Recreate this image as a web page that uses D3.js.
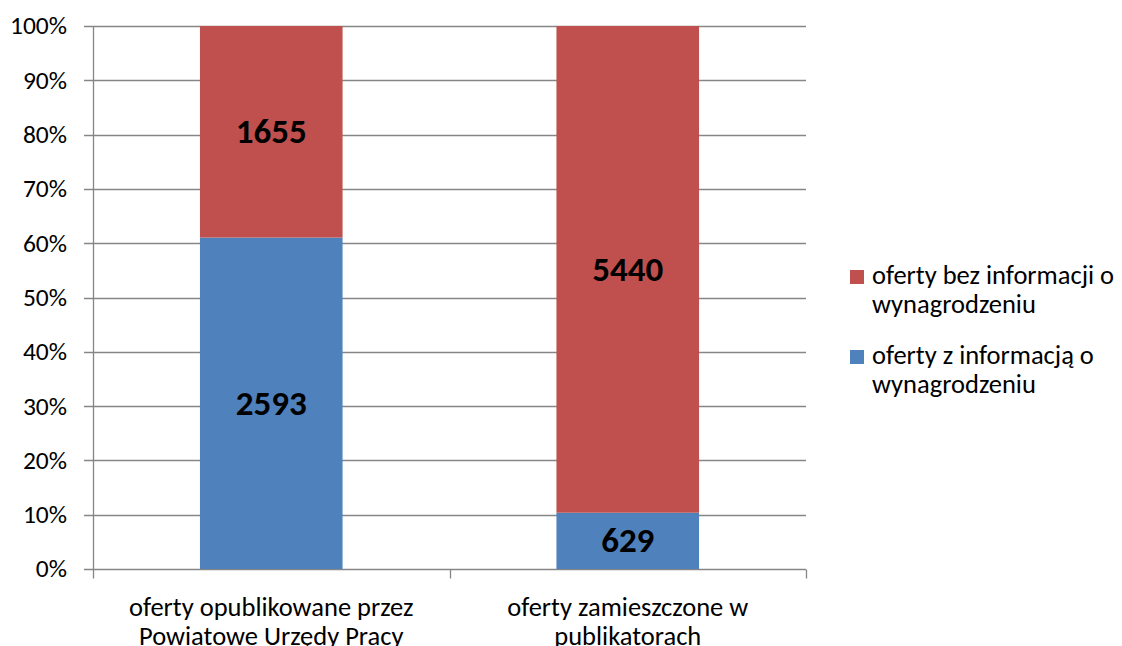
<!DOCTYPE html>
<html>
<head>
<meta charset="utf-8">
<script src="https://cdn.jsdelivr.net/npm/d3@7"></script>
<style>
  body { margin: 0; background: #fff; }
  text { font-family: Carlito, "Open Sans", sans-serif; }
</style>
</head>
<body>
<script>
const width = 1122;
const height = 646;

// data
const categories = [
  ['oferty opublikowane przez', 'Powiatowe Urzędy Pracy'],
  ['oferty zamieszczone w', 'publikatorach']
];
const legendLines = [
  ['oferty bez informacji o', 'wynagrodzeniu'],
  ['oferty z informacją o', 'wynagrodzeniu']
];
const withInfo = [2593, 629];
const withoutInfo = [1655, 5440];
const yTicks = [0, 0.1, 0.2, 0.3, 0.4, 0.5, 0.6, 0.7, 0.8, 0.9, 1];
const colors = ['#4F81BD', '#C0504D'];

const margin = {left: 93, right: 316, top: 26, bottom: 77};

const svg = d3.select('body').append('svg').attr('width', width).attr('height', height);
const g = svg.append('g');

const rows = categories.map((c, i) => ({idx: i, a: withInfo[i], b: withoutInfo[i]}));
const stack = d3.stack().keys(['a', 'b']).offset(d3.stackOffsetExpand);
const layers = stack(rows);

const x = d3.scaleBand().domain(d3.range(categories.length))
  .range([margin.left, width - margin.right]).paddingInner(0.6).paddingOuter(0.3);
const y = d3.scaleLinear().domain([0, 1]).range([height - margin.bottom, margin.top]);

// gridlines
g.selectAll('.grid')
  .data(yTicks)
  .enter()
  .append('line')
  .attr('x1', margin.left - 9)
  .attr('x2', width - margin.right)
  .attr('y1', d => Math.round(y(d)) + 0.5)
  .attr('y2', d => Math.round(y(d)) + 0.5)
  .attr('stroke', '#868686')
  .attr('stroke-width', 1.3);

// y labels
g.selectAll('.ylab')
  .data(yTicks)
  .enter()
  .append('text')
  .attr('x', 67)
  .attr('y', d => y(d))
  .attr('dy', '0.33em')
  .attr('text-anchor', 'end')
  .attr('font-size', 25.5)
  .attr('fill', '#000')
  .text(d => d3.format('.0%')(d));

// bars
layers.forEach((layer, k) => {
  g.selectAll('.bar' + k)
    .data(layer)
    .enter()
    .append('rect')
    .attr('x', d => x(d.data.idx))
    .attr('width', x.bandwidth())
    .attr('y', d => y(d[1]))
    .attr('height', d => y(d[0]) - y(d[1]))
    .attr('fill', colors[k]);

  g.selectAll('.lab' + k)
    .data(layer)
    .enter()
    .append('text')
    .attr('x', d => x(d.data.idx) + x.bandwidth() / 2)
    .attr('y', d => (y(d[0]) + y(d[1])) / 2)
    .attr('dy', '0.33em')
    .attr('text-anchor', 'middle')
    .attr('font-size', 35)
    .attr('font-weight', 'bold')
    .attr('fill', '#000')
    .text(d => k === 0 ? d.data.a : d.data.b);
});

// axes lines
const y0 = Math.round(y(0)) + 0.5;
g.append('line')
  .attr('x1', margin.left + 0.5).attr('x2', margin.left + 0.5)
  .attr('y1', margin.top).attr('y2', y0)
  .attr('stroke', '#868686').attr('stroke-width', 1.3);

const catTicks = d3.range(categories.length + 1).map(i => margin.left + i * (width - margin.left - margin.right) / categories.length);
g.selectAll('.ctick')
  .data(catTicks)
  .enter()
  .append('line')
  .attr('x1', d => Math.round(d) + 0.5)
  .attr('x2', d => Math.round(d) + 0.5)
  .attr('y1', y0)
  .attr('y2', y0 + 9)
  .attr('stroke', '#868686')
  .attr('stroke-width', 1.3);

// category labels
const cat = g.selectAll('.cat')
  .data(categories)
  .enter()
  .append('text')
  .attr('text-anchor', 'middle')
  .attr('font-size', 26.5)
  .attr('fill', '#000');
cat.selectAll('tspan')
  .data((d, i) => d.map(t => ({t: t, i: i})))
  .enter()
  .append('tspan')
  .attr('x', d => x(d.i) + x.bandwidth() / 2)
  .attr('y', (d, j) => 616 + j * 29)
  .text(d => d.t);

// legend
const legendColors = [colors[1], colors[0]];
const leg = g.selectAll('.leg')
  .data(legendLines)
  .enter()
  .append('g')
  .attr('transform', (d, i) => 'translate(850,' + (270 + i * 80) + ')');
leg.append('rect')
  .attr('width', 14).attr('height', 14)
  .attr('fill', (d, i) => legendColors[i]);
leg.append('text')
  .attr('font-size', 26.5)
  .attr('fill', '#000')
  .selectAll('tspan')
  .data(d => d)
  .enter()
  .append('tspan')
  .attr('x', 22)
  .attr('y', (d, j) => 14 + j * 29)
  .text(d => d);
</script>
</body>
</html>
